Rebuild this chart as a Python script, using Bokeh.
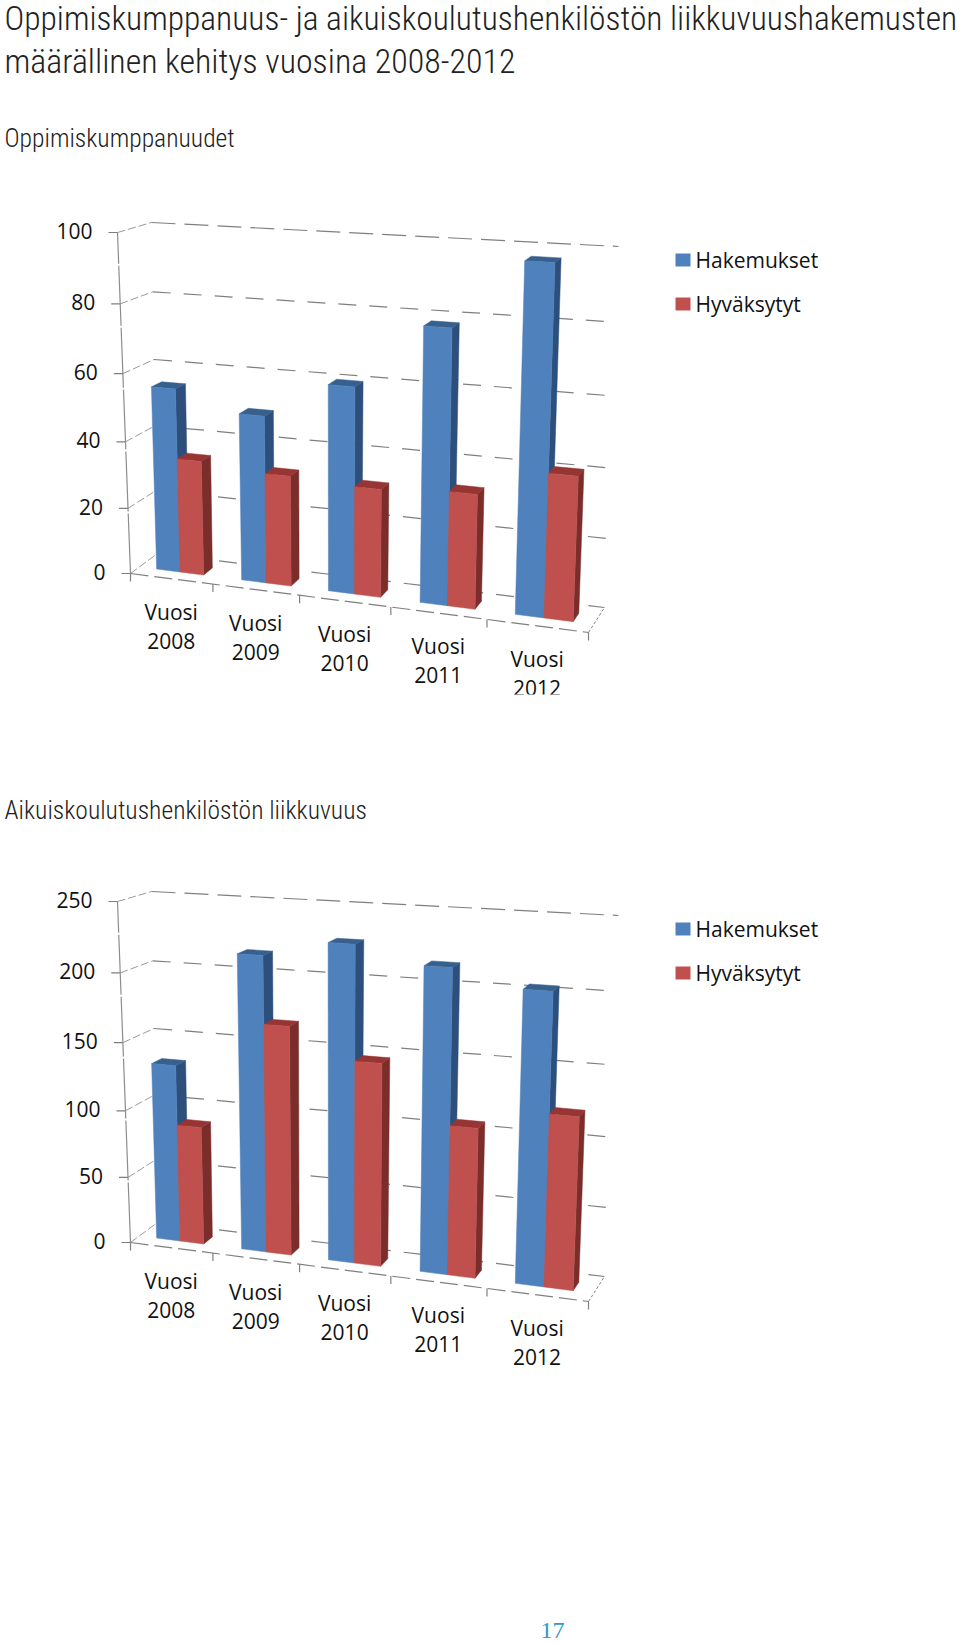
from bokeh.plotting import figure
from bokeh.models import Range1d
from bokeh.core.properties import value
from bokeh.embed import file_html
from bokeh.resources import INLINE

W, H = 960, 1645

title_lines = ["Oppimiskumppanuus- ja aikuiskoulutushenkilöstön liikkuvuushakemusten",
               "määrällinen kehitys vuosina 2008-2012"]
section1 = "Oppimiskumppanuudet"
section2 = "Aikuiskoulutushenkilöstön liikkuvuus"
page_number = "17"

years = ["2008", "2009", "2010", "2011", "2012"]
category_word = "Vuosi"
series_names = ["Hakemukset", "Hyväksytyt"]

ticks1 = [0, 20, 40, 60, 80, 100]
hakemukset1 = [55.2, 49.6, 60.2, 78.5, 97.5]
hyvaksytyt1 = [34.5, 32.8, 31.7, 33.1, 41.0]

ticks2 = [0, 50, 100, 150, 200, 250]
hakemukset2 = [132.3, 215.8, 227.5, 216, 204.7]
hyvaksytyt2 = [88.3, 167.5, 146.8, 107.5, 122]

BLUE = ("#4F81BD", "#2C4F7C", "#38608F")
RED = ("#C0504D", "#7A2D2B", "#963533")
GRID = "#7f7f7f"
HEAD_FONT = "Roboto Condensed Light, Roboto Condensed"

# corners of the 3-D box on the page: (u, w) -> (x, y) at value 0 and at axis maximum
FLOOR = {(0, 0): (130, 573), (1, 0): (588, 632), (0, 1): (157, 553), (1, 1): (604, 607)}
CEIL = {(0, 0): (117, 232), (1, 0): (602, 260), (0, 1): (151, 222), (1, 1): (618, 246)}
PERSP_U = 0.878
PERSP_V = 0.944
BAR_START = [0.043, 0.0485, 0.048, 0.048, 0.045]
BAR_WIDTH = 0.0575


def warp(t, c):
    return c * t / (1 + (c - 1) * t)


def project(u, v, w, oy):
    s = warp(u, PERSP_U)
    t = warp(v, PERSP_V)
    pts = []
    for c in (0, 1):
        bot = (1 - s) * (1 - w) * FLOOR[(0, 0)][c] + s * (1 - w) * FLOOR[(1, 0)][c] + (1 - s) * w * FLOOR[(0, 1)][c] + s * w * FLOOR[(1, 1)][c]
        top = (1 - s) * (1 - w) * CEIL[(0, 0)][c] + s * (1 - w) * CEIL[(1, 0)][c] + (1 - s) * w * CEIL[(0, 1)][c] + s * w * CEIL[(1, 1)][c]
        pts.append(bot + (top - bot) * t)
    return pts[0], pts[1] + oy


p = figure(width=W, height=H, x_range=Range1d(0, W), y_range=Range1d(H, 0),
           output_backend="svg", toolbar_location=None, min_border=0,
           background_fill_color="white", border_fill_color="white")
p.axis.visible = False
p.grid.visible = False
p.outline_line_color = None


def label(x, y, t, size, font="Open Sans", color="#111111", align="left", base="middle"):
    p.text([x], [y], text=[t], text_font=value(font), text_font_size=f"{size}px",
           text_color=color, text_align=align, text_baseline=base)


def seg(a, b, color=GRID, dash="solid", width=1.0):
    p.line([a[0], b[0]], [a[1], b[1]], line_color=color, line_dash=dash, line_width=width)


def box(u0, u1, val, ymax, cols, oy):
    v = val / ymax
    w0, w1 = 0.33, 0.67
    P = lambda u, vv, w: project(u, vv, w, oy)
    faces = [
        ([P(u1, 0, w0), P(u1, 0, w1), P(u1, v, w1), P(u1, v, w0)], cols[1]),
        ([P(u0, v, w0), P(u1, v, w0), P(u1, v, w1), P(u0, v, w1)], cols[2]),
        ([P(u0, 0, w0), P(u1, 0, w0), P(u1, v, w0), P(u0, v, w0)], cols[0]),
    ]
    for pts, col in faces:
        p.patch([q[0] for q in pts], [q[1] for q in pts], fill_color=col, line_color=col, line_width=0.5)


def chart(ticks, blue, red, oy, clip_bottom=None):
    ymax = ticks[-1]
    n = len(years)
    # walls: gridlines
    for t in ticks:
        v = t / ymax
        a, b, c = project(0, v, 0, oy), project(0, v, 1, oy), project(1, v, 1, oy)
        seg(a, b, dash="8 3", width=0.8)
        seg(b, c, dash="24 9" if t == ymax else "18 13", width=1.2)
        seg((a[0] - 9, a[1]), a, width=1.2)
        label(a[0] - 25, a[1] - 1.5, str(t), 21, align="right")
    # left vertical axis
    seg(project(0, 0, 0, oy), project(0, 1, 0, oy), color="#8c8c8c", dash="60 2", width=1.2)
    # floor
    seg(project(1, 0, 0, oy), project(1, 0, 1, oy), dash="3 2", width=1.0)
    seg(project(0, 0, 0, oy), project(1, 0, 0, oy), dash="18 6", width=1.2)
    for i in range(n + 1):
        q = project(i / n, 0, 0, oy)
        seg(q, (q[0], q[1] + 8), width=1.2)
    # bars
    for i in range(n):
        u = i / n + BAR_START[i]
        box(u, u + BAR_WIDTH, blue[i], ymax, BLUE, oy)
        box(u + BAR_WIDTH, u + 2 * BAR_WIDTH, red[i], ymax, RED, oy)
    # category labels
    for i in range(n):
        q = project((i + 0.5) / n, 0, 0, oy)
        label(q[0], q[1] + 33, category_word, 21, align="center")
        label(q[0], q[1] + 62, years[i], 21, align="center")
    if clip_bottom is not None:
        p.quad(left=[400], right=[640], top=[clip_bottom], bottom=[clip_bottom + 30],
               fill_color="white", line_color=None)
    # legend
    for name, col, y in zip(series_names, (BLUE[0], RED[0]), (260, 304)):
        p.quad(left=[675], right=[690], top=[y + oy - 7], bottom=[y + oy + 6], fill_color=col, line_color=None)
        label(695, y + oy - 1, name, 21)


label(4, 18, title_lines[0], 33.5, font=HEAD_FONT, base="alphabetic", color="#222222")
label(4, 60.5, title_lines[1], 33.9, font=HEAD_FONT, base="alphabetic", color="#222222")
label(4, 137, section1, 25.6, font=HEAD_FONT, base="alphabetic", color="#222222")
label(4, 809, section2, 25.6, font=HEAD_FONT, base="alphabetic", color="#222222")

chart(ticks1, hakemukset1, hyvaksytyt1, 0, clip_bottom=694)
chart(ticks2, hakemukset2, hyvaksytyt2, 669)

label(552, 1630, page_number, 24, font="Liberation Serif", color="#2A9CCB", align="center", base="alphabetic")

open("out.html", "w").write(file_html(p, INLINE))
